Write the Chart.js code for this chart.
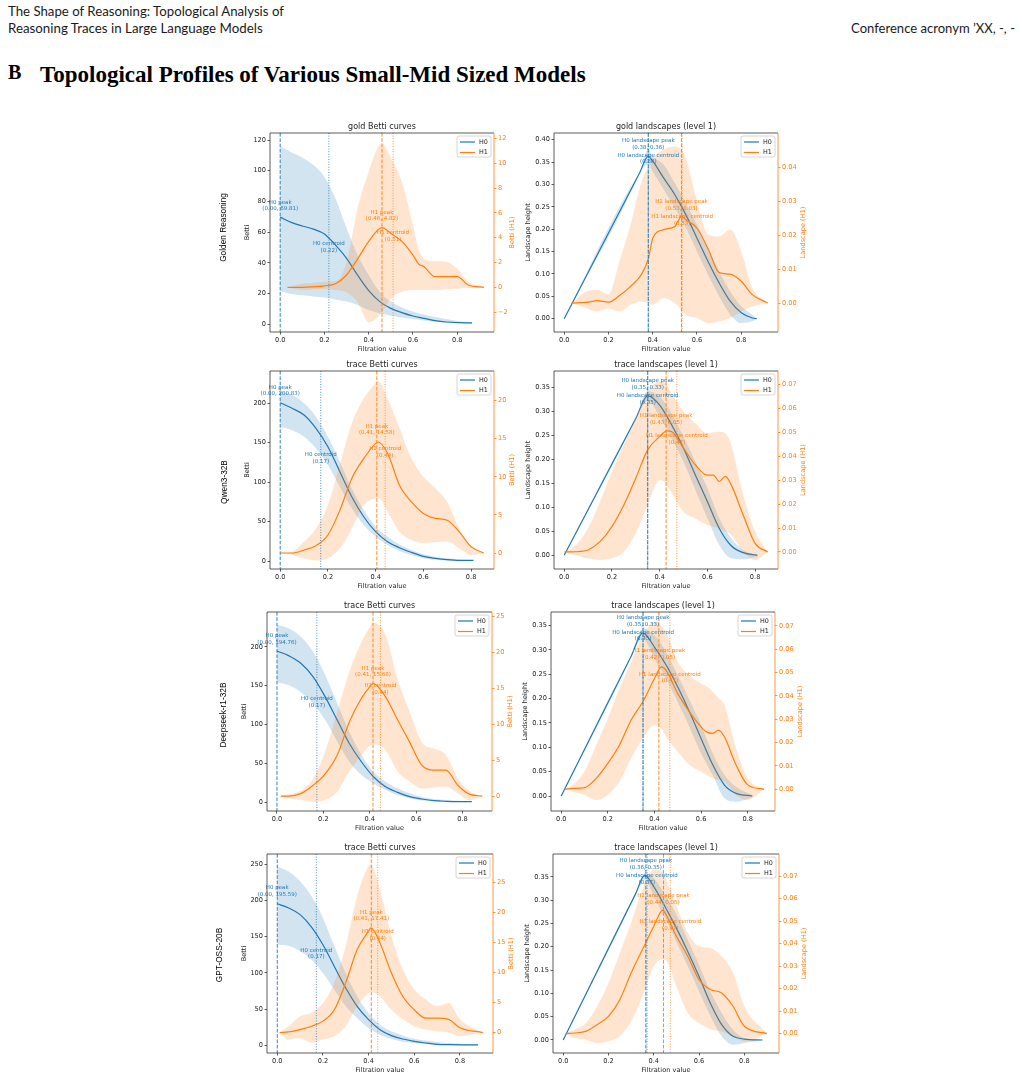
<!DOCTYPE html>
<html>
<head>
<meta charset="utf-8">
<title>Topological Profiles of Various Small-Mid Sized Models</title>
<script src="https://cdn.jsdelivr.net/npm/chart.js"></script>
<style>
  body { margin: 0; background: #fff; width: 1022px; height: 1081px; position: relative; overflow: hidden; }
  .hdr { position: absolute; font-family: 'Lato', sans-serif; font-size: 12px; color: #1a1a1a; white-space: nowrap; line-height: 17px; }
  .sec { position: absolute; font-family: 'Liberation Serif', serif; font-weight: bold; font-size: 20px; color: #000; white-space: nowrap; }
  canvas { position: absolute; }
</style>
</head>
<body>
<div class="hdr" id="h1" style="left:8px; top:3px;">The Shape of Reasoning: Topological Analysis of</div>
<div class="hdr" id="h2" style="left:8px; top:20px;">Reasoning Traces in Large Language Models</div>
<div class="hdr" id="h3" style="right:7px; top:20px;">Conference acronym ’XX, -, -</div>
<div class="sec" style="left:8px; top:61px;">B</div>
<div class="sec" id="sec" style="left:40px; top:61px;">Topological Profiles of Various Small-Mid Sized Models</div>

<script>
// ---------- data: x grids, mean curves and band edges ----------
// row 1, gold Betti curves
const p1H0x = [0, .05, .1, .15, .2, .25, .3, .35, .4, .45, .5, .55, .6, .65, .7, .75, .8, .867];
const p1H0 = [69.8, 66.4, 64.0, 62.0, 58.8, 51.6, 43.0, 32.0, 22.0, 14.8, 10.4, 7.6, 5.4, 3.9, 2.4, 1.5, 1.1, 0.9];
const p1H0hi = [116, 112, 108.5, 103.7, 96, 82, 62.5, 45, 32, 21, 14.8, 10.9, 8.2, 6.3, 4.8, 3.4, 2.2, 1.3];
const p1H0lo = [21.7, 19.7, 18.9, 18.2, 17.4, 16.2, 14.8, 12.6, 9.3, 7.2, 5.6, 4.5, 3.5, 2.5, 1.7, 1.2, 0.9, 0.6];
const p1H1x = [.033, .1, .15, .2, .25, .3, .35, .4, .46, .5, .55, .6, .625, .65, .7, .75, .8, .85, .92];
const p1H1 = [0, 0, 0.05, 0.13, 0.3, 1.0, 2.3, 3.7, 4.82, 4.35, 3.7, 2.6, 1.9, 1.66, 0.86, 0.86, 0.86, 0.19, 0];
const p1H1hi = [0, 0.3, 0.35, 0.45, 0.5, 2.0, 6.4, 9.3, 11.6, 10.4, 8.5, 5.0, 3.1, 2.3, 2.1, 2.07, 1.5, 0.45, 0.05];
const p1H1lo = [0, -0.2, -0.15, -0.1, -0.2, -0.4, -1.2, -2.8, -2.0, -0.9, -0.35, -0.2, -0.2, -0.2, -0.2, -0.15, -0.1, -0.05, 0];
const p1Marks = [0.00, 0.22, 0.46, 0.51];
const p1MarkText = ['(0.00, 69.81)', '(0.22)', '(0.46, 4.82)', '(0.51)'];
const p1MarkY = [77.5, 50.5, 5.8, 4.16];

// row 1, gold landscapes
const p2H0x = [0, .34, .38, .4, .45, .5, .55, .6, .65, .7, .75, .8, .85, .87];
const p2H0 = [0, 0.325, 0.363, 0.352, 0.314, 0.277, 0.232, 0.180, 0.128, 0.080, 0.039, 0.013, 0.0015, 0];
const p2H0hi = [0, 0.325, 0.378, 0.363, 0.344, 0.303, 0.258, 0.210, 0.158, 0.106, 0.061, 0.028, 0.009, 0];
const p2H0lo = [0, 0.325, 0.345, 0.329, 0.288, 0.247, 0.203, 0.150, 0.098, 0.050, 0.009, -0.0097, -0.006, 0];
const p2H1x = [.033, .1, .15, .2, .25, .3, .35, .38, .4, .45, .5, .53, .55, .6, .65, .7, .75, .8, .85, .92];
const p2H1 = [0, 0.0002, 0.0007, 0.0003, 0.0022, 0.0049, 0.0085, 0.013, 0.019, 0.0216, 0.0225, 0.0255, 0.0245, 0.022, 0.016, 0.009, 0.0085, 0.0064, 0.0025, 0];
const p2H1hi = [0, 0.0034, 0.0039, 0.0025, 0.0123, 0.023, 0.0358, 0.040, 0.0426, 0.0451, 0.046, 0.045, 0.0426, 0.030, 0.0201, 0.0196, 0.0216, 0.0152, 0.0044, 0];
const p2H1lo = [0, -0.0015, -0.0025, -0.0015, -0.0025, -0.0005, 0.0005, 0, -0.0005, 0.0015, 0, -0.002, -0.0034, -0.0044, -0.0059, -0.0054, -0.0044, -0.0025, -0.001, 0];
const p2Marks = [0.38, 0.38, 0.53, 0.533];
const p2MarkText = ['(0.38, 0.36)', '(0.38)', '(0.53, 0.03)', '(0.53)'];
const p2MarkY = [0.391, 0.358, 0.0289, 0.0244];

// row 2, Qwen3-32B Betti curves
const p3H0x = [0, .05, .1, .15, .2, .25, .3, .35, .4, .45, .5, .55, .6, .65, .7, .75, .81];
const p3H0 = [200.8, 193.7, 185.2, 168.3, 145, 113.3, 81.6, 56.2, 37.2, 24.5, 16.9, 11, 5.9, 3.4, 1.7, 0.85, 0.85];
const p3H0hi = [215.6, 210.6, 200, 183, 157.7, 126, 92.2, 64.7, 43.6, 30.9, 21.1, 14, 8.5, 5.5, 3.4, 2, 1];
const p3H0lo = [170.4, 166, 157.7, 143, 121.8, 94.3, 66.8, 45.7, 30.9, 20.3, 12.7, 7.6, 3.4, 1.5, 0.4, 0.1, 0];
const p3H1x = [0, .05, .1, .15, .2, .25, .3, .35, .4, .41, .45, .5, .55, .6, .65, .7, .75, .8, .853];
const p3H1 = [0, 0, 0.4, 0.96, 2.36, 5.6, 9.8, 12.4, 14.4, 14.58, 13.1, 8.9, 6.7, 5.2, 4.55, 4.3, 2.8, 0.83, 0];
const p3H1hi = [0, 0.17, 1.5, 3.2, 6.3, 11.6, 17, 20.3, 22.3, 22.6, 20.3, 16.4, 12.4, 10, 8.5, 6.7, 3.2, 0.6, 0];
const p3H1lo = [0, -0.26, -0.7, -1.0, -0.7, 0.6, 3.2, 6.3, 7.2, 7.3, 5.4, 2.8, 1.7, 1.3, 1.4, 1.5, 0.6, -0.26, 0];
const p3Marks = [0.00, 0.17, 0.405, 0.44];
const p3MarkText = ['(0.00, 200.83)', '(0.17)', '(0.41, 14.58)', '(0.44)'];
const p3MarkY = [216.5, 130.4, 16.2, 13.3];

// row 2, Qwen3-32B landscapes
const p4H0x = [0, .3, .35, .4, .45, .5, .55, .6, .65, .7, .75, .81];
const p4H0 = [0, 0.285, 0.332, 0.313, 0.272, 0.223, 0.167, 0.112, 0.056, 0.020, 0.0056, 0];
const p4H0hi = [0, 0.285, 0.342, 0.331, 0.296, 0.247, 0.195, 0.140, 0.077, 0.035, 0.011, 0];
const p4H0lo = [0, 0.285, 0.322, 0.289, 0.244, 0.195, 0.136, 0.077, 0.0215, -0.006, -0.008, -0.003];
const p4H1x = [0, .05, .1, .15, .2, .25, .3, .35, .4, .43, .45, .5, .55, .6, .625, .65, .675, .7, .75, .8, .853];
const p4H1 = [0, 0.0001, 0.0008, 0.0043, 0.0106, 0.0196, 0.0308, 0.0426, 0.0481, 0.0505, 0.0502, 0.0433, 0.0363, 0.0321, 0.0321, 0.0294, 0.0315, 0.028, 0.0154, 0.0036, 0];
const p4H1hi = [0, 0.0029, 0.0099, 0.021, 0.0335, 0.0447, 0.0558, 0.0669, 0.0711, 0.07, 0.0662, 0.0586, 0.0537, 0.0495, 0.05, 0.0502, 0.0495, 0.0447, 0.0238, 0.0085, 0];
const p4H1lo = [0, -0.0013, -0.0026, -0.0033, -0.0026, 0.0001, 0.0078, 0.0196, 0.030, 0.028, 0.0245, 0.0168, 0.014, 0.0113, 0.0105, 0.0099, 0.0085, 0.0071, 0.0001, -0.0033, 0];
const p4Marks = [0.35, 0.35, 0.427, 0.472];
const p4MarkText = ['(0.35, 0.33)', '(0.35)', '(0.43, 0.05)', '(0.47)'];
const p4MarkY = [0.3566, 0.326, 0.0555, 0.0472];

// row 3, Deepseek-r1-32B Betti curves
const p5H0x = [0, .052, .104, .156, .208, .26, .312, .364, .416, .468, .52, .572, .624, .676, .728, .84];
const p5H0 = [194.8, 188.4, 178.5, 161.4, 135.6, 105.6, 75.5, 51.9, 32.6, 19.7, 12.4, 6.9, 3.9, 1.7, 0.9, 0.4];
const p5H0hi = [229, 223.6, 212.9, 193.6, 163.5, 127, 90.6, 60.5, 39, 26.2, 17.6, 11.2, 6.4, 4, 2.6, 0.5];
const p5H0lo = [154, 150.6, 141.2, 127, 105.6, 77.7, 51.9, 34.8, 24, 15.5, 9, 4.7, 2.1, 1, 0.4, 0];
const p5H1x = [.016, .052, .104, .156, .208, .26, .312, .364, .405, .414, .468, .52, .572, .624, .676, .728, .78, .832, .885];
const p5H1 = [0, 0, 0.37, 1.5, 3.1, 5.7, 10.3, 13.6, 15.4, 15.68, 13.8, 10.6, 7.5, 4.3, 3.6, 3.6, 1.5, 0.23, 0];
const p5H1hi = [0, 0.2, 0.8, 2.45, 6.2, 11.7, 17.3, 21.4, 23.75, 24.1, 22.4, 16.3, 11.7, 7.5, 6.6, 5.7, 2.45, 0.6, 0];
const p5H1lo = [0, -0.3, -0.55, -0.8, -0.55, 0.6, 3.4, 5.7, 7.1, 7.2, 6.4, 3.4, 2.0, 1.06, 1.2, 1.3, 0.37, -0.55, 0];
const p5Marks = [0.00, 0.172, 0.414, 0.446];
const p5MarkText = ['(0.00, 194.76)', '(0.17)', '(0.41, 15.68)', '(0.44)'];
const p5MarkY = [210.5, 128.8, 17.3, 14.86];

// row 3, Deepseek-r1-32B landscapes
const p6H0x = [0, .3, .35, .4, .45, .5, .55, .6, .65, .7, .75, .82];
const p6H0 = [0, 0.287, 0.335, 0.306, 0.269, 0.224, 0.173, 0.118, 0.064, 0.0226, 0.0055, 0];
const p6H0hi = [0, 0.287, 0.344, 0.330, 0.296, 0.248, 0.197, 0.146, 0.0875, 0.043, 0.019, 0.002];
const p6H0lo = [0, 0.287, 0.323, 0.282, 0.241, 0.193, 0.142, 0.0875, 0.043, -0.0048, -0.0116, -0.003];
const p6H1x = [.015, .05, .1, .15, .2, .25, .3, .35, .4, .43, .45, .5, .55, .6, .625, .65, .675, .7, .75, .8, .87];
const p6H1 = [0, 0.0004, 0.0007, 0.0047, 0.0111, 0.019, 0.0297, 0.0375, 0.0475, 0.0525, 0.051, 0.041, 0.0332, 0.0268, 0.0245, 0.024, 0.0254, 0.0225, 0.0104, 0.0019, 0];
const p6H1hi = [0, 0.0019, 0.0076, 0.019, 0.0304, 0.0432, 0.0546, 0.066, 0.0717, 0.07, 0.0674, 0.0546, 0.0489, 0.0453, 0.044, 0.0418, 0.039, 0.036, 0.0175, 0.0047, 0];
const p6H1lo = [0, -0.001, -0.0024, -0.0046, -0.0024, 0.0033, 0.0133, 0.0218, 0.0275, 0.026, 0.0225, 0.0161, 0.0104, 0.0076, 0.006, 0.0047, 0.004, 0.0033, -0.0024, -0.0046, 0];
const p6Marks = [0.351, 0.351, 0.419, 0.466];
const p6MarkText = ['(0.35, 0.33)', '(0.35)', '(0.42, 0.05)', '(0.47)'];
const p6MarkY = [0.359, 0.330, 0.0579, 0.0479];

// row 4, GPT-OSS-20B Betti curves
const p7H0x = [0, .05, .1, .15, .2, .25, .3, .35, .4, .45, .5, .55, .6, .65, .7, .75, .88];
const p7H0 = [195.6, 189.7, 180.5, 163.4, 139, 109, 79.2, 53.9, 35.5, 21.6, 13.4, 8.7, 5.5, 3.2, 1.4, 0.9, 0.5];
const p7H0hi = [247, 240, 226.5, 205.8, 175.9, 136.7, 99.9, 67.7, 44.7, 28.5, 19.3, 13.4, 9.2, 6.5, 4.6, 3.2, 1.2];
const p7H0lo = [139, 137.7, 129.8, 118.3, 99.9, 76.9, 53.9, 37.8, 23.9, 14.7, 8.7, 5.1, 3.2, 1.8, 0.9, 0.5, 0];
const p7H1x = [.01, .05, .1, .15, .2, .25, .3, .35, .4, .41, .45, .5, .55, .6, .65, .7, .75, .8, .9];
const p7H1 = [0, 0.1, 0.5, 1.05, 1.9, 3.8, 8.3, 13.8, 16.9, 17.41, 14.9, 9.9, 6.0, 3.8, 2.4, 2.4, 2.2, 0.8, 0];
const p7H1hi = [0, 1.05, 2.7, 3.3, 4.9, 8.3, 14.4, 22.7, 27.7, 27.9, 23.8, 16.0, 10.5, 7.2, 5.5, 4.4, 4.9, 2.2, 0];
const p7H1lo = [0, -1.16, -0.9, -1.7, -1.16, -0.6, 1.05, 4.4, 6.6, 6.8, 6.0, 3.8, 2.2, 1.05, 0.5, 0.2, 0, -0.6, 0];
const p7Marks = [0.00, 0.171, 0.412, 0.44];
const p7MarkText = ['(0.00, 195.59)', '(0.17)', '(0.41, 17.41)', '(0.44)'];
const p7MarkY = [213.6, 127.1, 19.5, 16.2];

// row 4, GPT-OSS-20B landscapes
const p8H0x = [0, .32, .36, .4, .45, .5, .55, .6, .65, .7, .75, .8, .88];
const p8H0 = [0, 0.314, 0.353, 0.329, 0.286, 0.24, 0.19, 0.136, 0.079, 0.033, 0.0079, 0.002, 0];
const p8H0hi = [0, 0.314, 0.358, 0.347, 0.311, 0.269, 0.215, 0.161, 0.104, 0.058, 0.022, 0.0043, 0];
const p8H0lo = [0, 0.314, 0.345, 0.308, 0.261, 0.211, 0.158, 0.104, 0.051, 0.0079, -0.01, -0.0064, 0];
const p8H1x = [.01, .05, .1, .15, .2, .25, .3, .35, .4, .44, .45, .5, .55, .6, .65, .7, .75, .8, .9];
const p8H1 = [0, 0.0003, 0.001, 0.004, 0.0077, 0.0151, 0.027, 0.0374, 0.0478, 0.0549, 0.0537, 0.0433, 0.0344, 0.024, 0.0196, 0.0181, 0.0122, 0.0033, 0];
const p8H1hi = [0, 0.0018, 0.0047, 0.0122, 0.0225, 0.0359, 0.0492, 0.0641, 0.073, 0.072, 0.070, 0.0567, 0.0448, 0.0389, 0.0381, 0.0344, 0.027, 0.0122, 0];
const p8H1lo = [0, -0.0019, -0.0027, -0.0042, -0.0034, -0.0012, 0.0055, 0.0166, 0.030, 0.033, 0.0329, 0.021, 0.0092, 0.0047, 0.002, 0.001, -0.0012, -0.0034, 0];
const p8Marks = [0.365, 0.37, 0.443, 0.473];
const p8MarkText = ['(0.36, 0.35)', '(0.37)', '(0.44, 0.05)', '(0.47)'];
const p8MarkY = [0.377, 0.3457, 0.060, 0.0484];

// tick labels
const xTicks = [0, 0.2, 0.4, 0.6, 0.8];
const p1Ticks = [0, 20, 40, 60, 80, 100, 120];
const p1Ticks1 = [-2, 0, 2, 4, 6, 8, 10, 12];
const p2Ticks = [0, 0.05, 0.1, 0.15, 0.2, 0.25, 0.3, 0.35, 0.4];
const p2Ticks1 = [0, 0.01, 0.02, 0.03, 0.04];
const p3Ticks = [0, 50, 100, 150, 200];
const p3Ticks1 = [0, 5, 10, 15, 20];
const landTicks = [0, 0.05, 0.1, 0.15, 0.2, 0.25, 0.3, 0.35];
const landTicks1 = [0, 0.01, 0.02, 0.03, 0.04, 0.05, 0.06, 0.07];
const p5Ticks = [0, 50, 100, 150, 200];
const p5Ticks1 = [0, 5, 10, 15, 20, 25];
const p7Ticks = [0, 50, 100, 150, 200, 250];
const p7Ticks1 = [0, 5, 10, 15, 20, 25];

const bettiNames = ['H0 peak', 'H0 centroid', 'H1 peak', 'H1 centroid'];
const landNames = ['H0 landscape peak', 'H0 landscape centroid', 'H1 landscape peak', 'H1 landscape centroid'];

// ---------- panels ----------
const panels = [
  { box: [270, 133, 494, 332], betti: true, title: 'gold Betti curves', row: 'Golden Reasoning', rowAt: [224, 227.5],
    x: [-0.046, 0.966], y: [-5.0, 124.6], y1: [-3.59, 12.43], yT: p1Ticks, y1T: p1Ticks1, yd: 0, y1d: 0,
    h0: [p1H0x, p1H0, p1H0hi, p1H0lo], h1: [p1H1x, p1H1, p1H1hi, p1H1lo], marks: p1Marks, mt: p1MarkText, my: p1MarkY },
  { box: [554, 133, 778, 332], betti: false, title: 'gold landscapes (level 1)',
    x: [-0.046, 0.966], y: [-0.0298, 0.415], y1: [-0.0085, 0.0500], yT: p2Ticks, y1T: p2Ticks1, yd: 2, y1d: 2,
    h0: [p2H0x, p2H0, p2H0hi, p2H0lo], h1: [p2H1x, p2H1, p2H1hi, p2H1lo], marks: p2Marks, mt: p2MarkText, my: p2MarkY },
  { box: [270, 371, 494, 569], betti: true, title: 'trace Betti curves', row: 'Qwen3-32B', rowAt: [225, 482],
    x: [-0.0427, 0.896], y: [-10.1, 241], y1: [-2.1, 23.9], yT: p3Ticks, y1T: p3Ticks1, yd: 0, y1d: 0,
    h0: [p3H0x, p3H0, p3H0hi, p3H0lo], h1: [p3H1x, p3H1, p3H1hi, p3H1lo], marks: p3Marks, mt: p3MarkText, my: p3MarkY },
  { box: [554, 371, 778, 569], betti: false, title: 'trace landscapes (level 1)',
    x: [-0.0427, 0.896], y: [-0.0285, 0.384], y1: [-0.0071, 0.0755], yT: landTicks, y1T: landTicks1, yd: 2, y1d: 2,
    h0: [p4H0x, p4H0, p4H0hi, p4H0lo], h1: [p4H1x, p4H1, p4H1hi, p4H1lo], marks: p4Marks, mt: p4MarkText, my: p4MarkY },
  { box: [267, 612, 492, 811], betti: true, title: 'trace Betti curves', row: 'Deepseek-r1-32B', rowAt: [224, 715],
    x: [-0.043, 0.927], y: [-11.6, 245], y1: [-2.08, 25.6], yT: p5Ticks, y1T: p5Ticks1, yd: 0, y1d: 0,
    h0: [p5H0x, p5H0, p5H0hi, p5H0lo], h1: [p5H1x, p5H1, p5H1hi, p5H1lo], marks: p5Marks, mt: p5MarkText, my: p5MarkY },
  { box: [551, 612, 775, 811], betti: false, title: 'trace landscapes (level 1)',
    x: [-0.0437, 0.917], y: [-0.0308, 0.378], y1: [-0.0093, 0.0760], yT: landTicks, y1T: landTicks1, yd: 2, y1d: 2,
    h0: [p6H0x, p6H0, p6H0hi, p6H0lo], h1: [p6H1x, p6H1, p6H1hi, p6H1lo], marks: p6Marks, mt: p6MarkText, my: p6MarkY },
  { box: [267, 854, 493, 1053], betti: true, title: 'trace Betti curves', row: 'GPT-OSS-20B', rowAt: [220, 955],
    x: [-0.045, 0.945], y: [-10.6, 264.3], y1: [-3.4, 29.7], yT: p7Ticks, y1T: p7Ticks1, yd: 0, y1d: 0,
    h0: [p7H0x, p7H0, p7H0hi, p7H0lo], h1: [p7H1x, p7H1, p7H1hi, p7H1lo], marks: p7Marks, mt: p7MarkText, my: p7MarkY },
  { box: [553, 854, 779, 1053], betti: false, title: 'trace landscapes (level 1)',
    x: [-0.045, 0.953], y: [-0.0279, 0.399], y1: [-0.0086, 0.0799], yT: landTicks, y1T: landTicks1, yd: 2, y1d: 2,
    h0: [p8H0x, p8H0, p8H0hi, p8H0lo], h1: [p8H1x, p8H1, p8H1hi, p8H1lo], marks: p8Marks, mt: p8MarkText, my: p8MarkY }
];

const BLUE = '#1f77b4', ORANGE = '#ff7f0e', INK = '#222';
const FONT = "'DejaVu Sans', sans-serif";
const L = 62, R = 50, T = 20, B = 24; // room around each plot area

function txt(ctx, s, x, y, size, color, rot, family) {
  ctx.save();
  ctx.translate(x, y);
  if (rot) ctx.rotate(rot);
  ctx.font = size + 'px ' + (family || FONT);
  ctx.fillStyle = color;
  ctx.textAlign = 'center';
  ctx.textBaseline = 'middle';
  ctx.fillText(s, 0, 0);
  ctx.restore();
}

function axis(pos, range, ticks, dec, color) {
  return {
    type: 'linear', position: pos, min: range[0], max: range[1],
    afterFit: s => { if (pos === 'bottom') s.height = B; else s.width = pos === 'left' ? L : R; },
    afterBuildTicks: s => { s.ticks = ticks.map(v => ({ value: v })); },
    ticks: {
      autoSkip: false, maxRotation: 0, padding: 1.5, color: color,
      font: { family: FONT, size: 6.6 },
      callback: v => (v < 0 ? '\u2212' : '') + Math.abs(v).toFixed(dec)
    },
    grid: { drawOnChartArea: false, drawTicks: true, tickLength: 2.5, tickColor: color === INK ? '#333' : color, lineWidth: 0.8 },
    border: { display: false }
  };
}

function series(xs, ys, extra) {
  return Object.assign({
    data: xs.map((x, i) => ({ x: x, y: ys[i] })),
    pointRadius: 0, borderWidth: 0, borderColor: 'transparent',
    cubicInterpolationMode: 'monotone', fill: false
  }, extra);
}

// vertical marker lines, their labels, frame, titles and legend
function decor(p) {
  const names = p.betti ? bettiNames : landNames;
  return {
    id: 'decor',
    afterDatasetsDraw(chart) {
      const { ctx, chartArea: a, scales } = chart;
      ctx.save();
      p.marks.forEach((mx, i) => {
        const x = scales.x.getPixelForValue(mx);
        ctx.strokeStyle = i < 2 ? BLUE : ORANGE;
        ctx.globalAlpha = 0.9;
        ctx.lineWidth = i % 2 ? 0.9 : 1.0;
        ctx.setLineDash(i % 2 ? [1, 1.6] : [3.7, 1.6]);
        ctx.beginPath(); ctx.moveTo(x, a.top); ctx.lineTo(x, a.bottom); ctx.stroke();
      });
      ctx.restore();
      p.marks.forEach((mx, i) => {
        const x = scales.x.getPixelForValue(mx);
        const y = scales[i < 2 ? 'y' : 'y1'].getPixelForValue(p.my[i]);
        const c = i < 2 ? BLUE : ORANGE;
        txt(ctx, names[i], x, y - 3.2, 5.5, c);
        txt(ctx, p.mt[i], x, y + 3.4, 5.5, c);
      });
    },
    afterDraw(chart) {
      const { ctx, chartArea: a } = chart;
      const cx = (a.left + a.right) / 2, cy = (a.top + a.bottom) / 2;
      ctx.save();
      ctx.lineWidth = 0.8;
      ctx.strokeStyle = '#333';
      ctx.beginPath();
      ctx.moveTo(a.right, a.top); ctx.lineTo(a.left, a.top); ctx.lineTo(a.left, a.bottom); ctx.lineTo(a.right, a.bottom);
      ctx.stroke();
      ctx.strokeStyle = ORANGE;
      ctx.beginPath(); ctx.moveTo(a.right, a.top); ctx.lineTo(a.right, a.bottom); ctx.stroke();
      // legend
      const lx = a.right - 37, ly = a.top + 3;
      ctx.fillStyle = 'rgba(255,255,255,0.8)';
      ctx.strokeStyle = '#ccc';
      ctx.beginPath(); ctx.roundRect(lx, ly, 34, 21, 2); ctx.fill(); ctx.stroke();
      ctx.lineWidth = 1.2;
      [[BLUE, 'H0', 6], [ORANGE, 'H1', 16.5]].forEach(([c, s, dy]) => {
        ctx.strokeStyle = c;
        ctx.beginPath(); ctx.moveTo(lx + 3, ly + dy); ctx.lineTo(lx + 18, ly + dy); ctx.stroke();
        ctx.font = '6.4px ' + FONT; ctx.fillStyle = INK; ctx.textAlign = 'left'; ctx.textBaseline = 'middle';
        ctx.fillText(s, lx + 22, ly + dy);
      });
      ctx.restore();
      txt(ctx, p.title, cx, a.top - 6.5, 8, INK);
      txt(ctx, 'Filtration value', cx, a.bottom + 17, 6.6, INK);
      txt(ctx, p.betti ? 'Betti' : 'Landscape height', a.left - (p.betti ? 23 : 26), cy, 6.6, INK, -Math.PI / 2);
      txt(ctx, p.betti ? 'Betti (H1)' : 'Landscape (H1)', a.right + (p.betti ? 18 : 25), cy, 6.6, ORANGE, -Math.PI / 2);
      if (p.row) {
        // model name to the left of the row, given in page coordinates
        txt(ctx, p.row, a.left + p.rowAt[0] - p.box[0], a.top + p.rowAt[1] - p.box[1], 8.3, '#000',
            -Math.PI / 2, "'Liberation Sans', sans-serif");
      }
    }
  };
}

panels.forEach(p => {
  const [x0, y0, x1, y1] = p.box;
  const cv = document.createElement('canvas');
  cv.width = (x1 - x0) + L + R;
  cv.height = (y1 - y0) + T + B;
  cv.style.left = (x0 - L) + 'px';
  cv.style.top = (y0 - T) + 'px';
  document.body.appendChild(cv);

  const [h0x, h0, h0hi, h0lo] = p.h0;
  const [h1x, h1, h1hi, h1lo] = p.h1;

  new Chart(cv, {
    type: 'line',
    data: {
      datasets: [
        series(h1x, h1, { yAxisID: 'y1', borderColor: ORANGE, borderWidth: 1.2, order: 0 }),
        series(h1x, h1hi, { yAxisID: 'y1', backgroundColor: 'rgba(255,127,14,0.2)', fill: '+1', order: 1 }),
        series(h1x, h1lo, { yAxisID: 'y1', order: 2 }),
        series(h0x, h0, { yAxisID: 'y', borderColor: BLUE, borderWidth: 1.2, order: 3 }),
        series(h0x, h0hi, { yAxisID: 'y', backgroundColor: 'rgba(31,119,180,0.2)', fill: '+1', order: 4 }),
        series(h0x, h0lo, { yAxisID: 'y', order: 5 })
      ]
    },
    options: {
      responsive: false,
      animation: false,
      layout: { padding: { top: T, left: 0, right: 0, bottom: 0 } },
      plugins: { legend: { display: false }, tooltip: { enabled: false }, title: { display: false } },
      scales: {
        x: axis('bottom', p.x, xTicks, 1, INK),
        y: axis('left', p.y, p.yT, p.yd, INK),
        y1: axis('right', p.y1, p.y1T, p.y1d, ORANGE)
      }
    },
    plugins: [decor(p)]
  });
});

// stretch header lines to the widths they take in the reference
function fit(id, w) {
  const el = document.getElementById(id);
  const fs = parseFloat(getComputedStyle(el).fontSize);
  el.style.fontSize = (fs * w / el.getBoundingClientRect().width) + 'px';
}
fit('h1', 276);
fit('h2', 255);
fit('h3', 164);
fit('sec', 546);
</script>
</body>
</html>
